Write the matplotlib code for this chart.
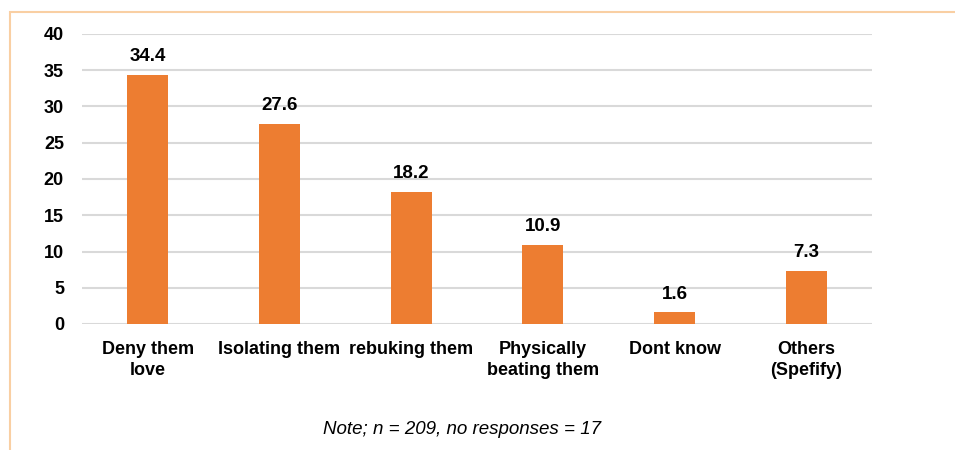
import matplotlib.pyplot as plt
from matplotlib.patches import Rectangle
import numpy as np

categories = ["Deny them\nlove", "Isolating them", "rebuking them",
              "Physically\nbeating them", "Dont know", "Others\n(Spefify)"]
values = [34.4, 27.6, 18.2, 10.9, 1.6, 7.3]
yticks = [0, 5, 10, 15, 20, 25, 30, 35, 40]
note = "Note; n = 209, no responses = 17"

plt.rcParams["font.family"] = ["Liberation Sans", "DejaVu Sans"]

fig = plt.figure(figsize=(9.55, 4.5), dpi=100)
ax = fig.add_axes([82 / 955, 1 - 324 / 450, 790 / 955, 290 / 450])

x = np.arange(len(categories))
bars = ax.bar(x, values, width=0.31, color="#ED7D31", zorder=3)

for b, v in zip(bars, values):
    ax.annotate("{:.1f}".format(v), (b.get_x() + b.get_width() / 2, v),
                xytext=(0, 7), textcoords="offset points",
                ha="center", va="bottom", fontsize=13.5, fontweight="bold")

ax.set_xlim(-0.5, len(categories) - 0.5)
ax.set_ylim(0, 40)
ax.set_yticks(yticks)
ax.set_xticks(x)
ax.set_xticklabels(categories, fontsize=13, fontweight="bold", linespacing=1.3)
for lbl in ax.get_yticklabels():
    lbl.set_fontsize(13)
    lbl.set_fontweight("bold")
ax.tick_params(axis="both", length=0)
ax.tick_params(axis="y", pad=13)
ax.tick_params(axis="x", pad=12)
ax.grid(axis="y", color="#D9D9D9", linewidth=1.5, zorder=0)
for s in ax.spines.values():
    s.set_visible(False)

fig.text(462 / 955, 1 - 430 / 450, note, ha="center", va="center",
         fontsize=13.5, style="italic")

# outer frame, only its top and left edges fall inside the figure
fig.patches.append(Rectangle((10 / 955, -0.1), 1.2, 1.1 - 12 / 450,
                             transform=fig.transFigure, fill=False,
                             edgecolor="#F9CFA3", linewidth=1.5))

fig.savefig("out.png", dpi=100)
